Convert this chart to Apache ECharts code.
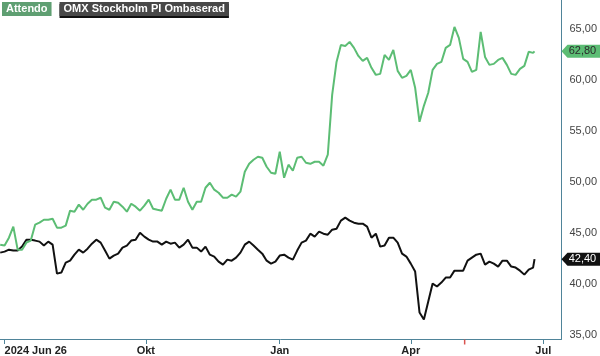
<!DOCTYPE html>
<html><head><meta charset="utf-8">
<script src="https://cdn.jsdelivr.net/npm/echarts@6/dist/echarts.min.js"></script>
<style>html,body{margin:0;padding:0;background:#fff}#c{width:600px;height:356px}</style>
</head><body><div id="c"></div>
<script>
const dates = [
'2024-06-23','2024-06-26','2024-06-29','2024-07-02','2024-07-05','2024-07-08','2024-07-11','2024-07-14','2024-07-17','2024-07-20',
'2024-07-23','2024-07-26','2024-07-29','2024-08-01','2024-08-04','2024-08-07','2024-08-10','2024-08-13','2024-08-16','2024-08-19',
'2024-08-22','2024-08-25','2024-08-28','2024-08-31','2024-09-03','2024-09-06','2024-09-09','2024-09-12','2024-09-15','2024-09-18',
'2024-09-21','2024-09-24','2024-09-27','2024-09-30','2024-10-03','2024-10-06','2024-10-09','2024-10-12','2024-10-15','2024-10-18',
'2024-10-21','2024-10-24','2024-10-27','2024-10-30','2024-11-02','2024-11-05','2024-11-08','2024-11-11','2024-11-14','2024-11-17',
'2024-11-20','2024-11-23','2024-11-26','2024-11-29','2024-12-02','2024-12-05','2024-12-08','2024-12-11','2024-12-14','2024-12-17',
'2024-12-20','2024-12-23','2024-12-26','2024-12-29','2025-01-01','2025-01-04','2025-01-07','2025-01-10','2025-01-13','2025-01-16',
'2025-01-19','2025-01-22','2025-01-25','2025-01-28','2025-01-31','2025-02-03','2025-02-06','2025-02-09','2025-02-12','2025-02-15',
'2025-02-18','2025-02-21','2025-02-24','2025-02-27','2025-03-02','2025-03-05','2025-03-08','2025-03-11','2025-03-14','2025-03-17',
'2025-03-20','2025-03-23','2025-03-26','2025-03-29','2025-04-01','2025-04-04','2025-04-07','2025-04-10','2025-04-13','2025-04-16',
'2025-04-19','2025-04-22','2025-04-25','2025-04-28','2025-05-01','2025-05-04','2025-05-07','2025-05-10','2025-05-13','2025-05-16',
'2025-05-19','2025-05-22','2025-05-25','2025-05-28','2025-05-31','2025-06-03','2025-06-06','2025-06-09','2025-06-12','2025-06-15',
'2025-06-18','2025-06-21','2025-06-24','2025-06-25'
];
const attendo = [
43.82,43.73,44.51,45.59,43.33,43.33,44.02,44.22,45.78,45.98,
46.27,46.27,46.37,45.49,45.49,45.69,47.16,47.06,47.75,47.25,
47.84,48.24,48.24,48.43,47.45,47.25,48.04,47.94,47.55,47.06,
47.84,47.55,47.16,47.65,48.24,47.35,47.25,47.16,48.33,49.22,
48.24,48.24,49.41,48.04,47.25,48.04,48.04,49.41,49.90,49.22,
48.92,48.43,48.43,48.73,48.53,49.02,50.98,51.76,52.16,52.45,
52.35,51.47,50.88,50.78,52.94,50.39,51.67,51.08,52.35,52.45,
51.86,51.76,51.96,51.96,51.57,52.65,58.53,61.76,63.43,63.33,
63.73,63.14,62.35,61.86,62.16,61.18,60.49,60.59,62.45,61.96,
62.94,60.88,60.20,60.39,60.98,59.22,55.88,57.45,58.73,60.98,
61.57,61.76,63.14,63.43,65.20,64.12,62.06,61.76,60.78,60.98,
64.71,62.25,61.47,61.57,61.96,62.16,61.47,60.59,60.49,61.08,
61.37,62.75,62.65,62.80
];
const omx = [
43.04,43.14,43.33,43.24,43.24,43.63,44.31,44.31,44.22,44.12,
43.73,44.12,43.82,40.98,41.08,42.06,42.25,42.84,43.33,43.04,
43.43,43.92,44.31,44.02,43.24,42.45,42.75,42.94,43.53,43.73,
44.22,44.31,45.00,44.61,44.31,44.12,44.12,43.82,44.12,43.92,
44.02,43.53,43.82,44.31,43.53,43.53,43.14,43.63,42.84,42.65,
42.16,41.86,42.35,42.25,42.55,43.04,43.82,44.12,43.73,43.33,
42.94,42.25,41.96,42.16,42.75,42.84,42.55,42.35,43.24,44.02,
44.22,44.90,44.61,45.10,44.90,44.80,45.29,45.39,46.18,46.47,
46.18,45.98,45.88,45.88,45.59,44.51,44.90,43.63,43.73,44.51,
44.51,44.02,42.94,42.65,41.96,41.18,37.16,36.47,38.24,40.00,
39.71,40.10,40.59,40.59,41.27,41.27,41.27,42.25,42.55,42.84,
42.94,41.86,42.16,41.96,41.67,42.25,42.25,41.67,41.57,41.27,
40.88,41.37,41.57,42.40
];
const seriesNames = ['Attendo', 'OMX Stockholm PI Ombaserad'];
const yTicks = [35, 40, 45, 50, 55, 60, 65];
const xTickDates = ['2024-06-26', '2024-10-01', '2025-01-01', '2025-04-01', '2025-07-01'];
const xTickLabels = ['2024 Jun 26', 'Okt', 'Jan', 'Apr', 'Jul'];
const eventDate = '2025-05-08';

const DAY = 86400000;
const ts = s => +echarts.time.parse(s);
const xTickTs = xTickDates.map(ts);
const xMin = ts('2024-06-26') - 3.14 * DAY;
const xMax = ts('2025-07-01') + 12.5 * DAY;
const yMin = 34.56, yMax = 67.84;
const fmt = v => v.toFixed(2).replace('.', ',');
const FONT = '"Liberation Sans", Arial, sans-serif';
const GREEN = '#5cbd74', BLACK = '#111111', AXIS = '#4f8499';
const TAG_PATH = 'path://M0,6 L6,0 L44,0 L44,12 L6,12 Z';

function tagPoint(values, bg, fg) {
  const last = values[values.length - 1];
  return {
    coord: [xMax, last],
    symbol: TAG_PATH, symbolSize: [44, 13], symbolKeepAspect: false, symbolOffset: [22, 0],
    itemStyle: { color: bg },
    label: { show: true, position: 'inside', offset: [-1, 0], color: fg, fontSize: 11, fontFamily: FONT, formatter: () => fmt(last) }
  };
}

const chart = echarts.init(document.getElementById('c'), null, { renderer: 'canvas' });
chart.setOption({
  animation: false,
  backgroundColor: '#fff',
  grid: { left: 0, right: 35, top: 0, bottom: 16 },
  legend: {
    left: -3, top: 2, padding: 0, itemGap: 3, icon: 'none', itemWidth: 0, itemHeight: 0, selectedMode: false,
    textStyle: { fontFamily: FONT, fontWeight: 'bold', fontSize: 11 },
    data: [
      { name: seriesNames[0], textStyle: { color: '#fff', backgroundColor: '#5f9f72', padding: [2, 4, 1, 4] } },
      { name: seriesNames[1], textStyle: { color: '#fff', backgroundColor: '#484848', padding: [2, 4, 1, 4], shadowColor: '#111', shadowOffsetY: 2, shadowBlur: 0 } }
    ]
  },
  xAxis: {
    type: 'value', min: xMin, max: xMax, scale: true,
    axisLine: { show: true, onZero: false, lineStyle: { color: AXIS, width: 1 } },
    axisTick: { show: true, length: 5, lineStyle: { color: AXIS }, customValues: xTickTs },
    axisLabel: {
      customValues: xTickTs, margin: 6, fontFamily: FONT, fontWeight: 'bold', fontSize: 11, color: '#222',
      alignMinLabel: 'left', showMinLabel: true, showMaxLabel: true,
      formatter: v => { const i = xTickTs.indexOf(v); return i >= 0 ? xTickLabels[i] : ''; }
    },
    splitLine: { show: false }
  },
  yAxis: {
    type: 'value', position: 'right', min: yMin, max: yMax,
    axisLine: { show: true, lineStyle: { color: AXIS, width: 1 } },
    axisTick: { show: false },
    splitLine: { show: false },
    axisLabel: { customValues: yTicks, margin: 8, fontFamily: FONT, fontSize: 11, color: '#444', formatter: v => fmt(v) }
  },
  series: [
    {
      name: seriesNames[0], type: 'line', symbol: 'none', color: GREEN,
      lineStyle: { width: 2, color: GREEN },
      data: dates.map((d, i) => [ts(d), attendo[i]]),
      markPoint: { silent: true, data: [tagPoint(attendo, GREEN, '#2b2b2b')] },
      z: 3
    },
    {
      name: seriesNames[1], type: 'line', symbol: 'none', color: BLACK,
      lineStyle: { width: 2, color: BLACK },
      data: dates.map((d, i) => [ts(d), omx[i]]),
      markPoint: {
        silent: true,
        data: [
          tagPoint(omx, BLACK, '#fff'),
          {
            coord: [ts(eventDate), yMin], symbol: 'rect', symbolSize: [1.5, 5], symbolOffset: [0, 3],
            itemStyle: { color: '#d9534f' }, label: { show: false }
          }
        ]
      },
      z: 2
    }
  ]
});
</script>
</body></html>
